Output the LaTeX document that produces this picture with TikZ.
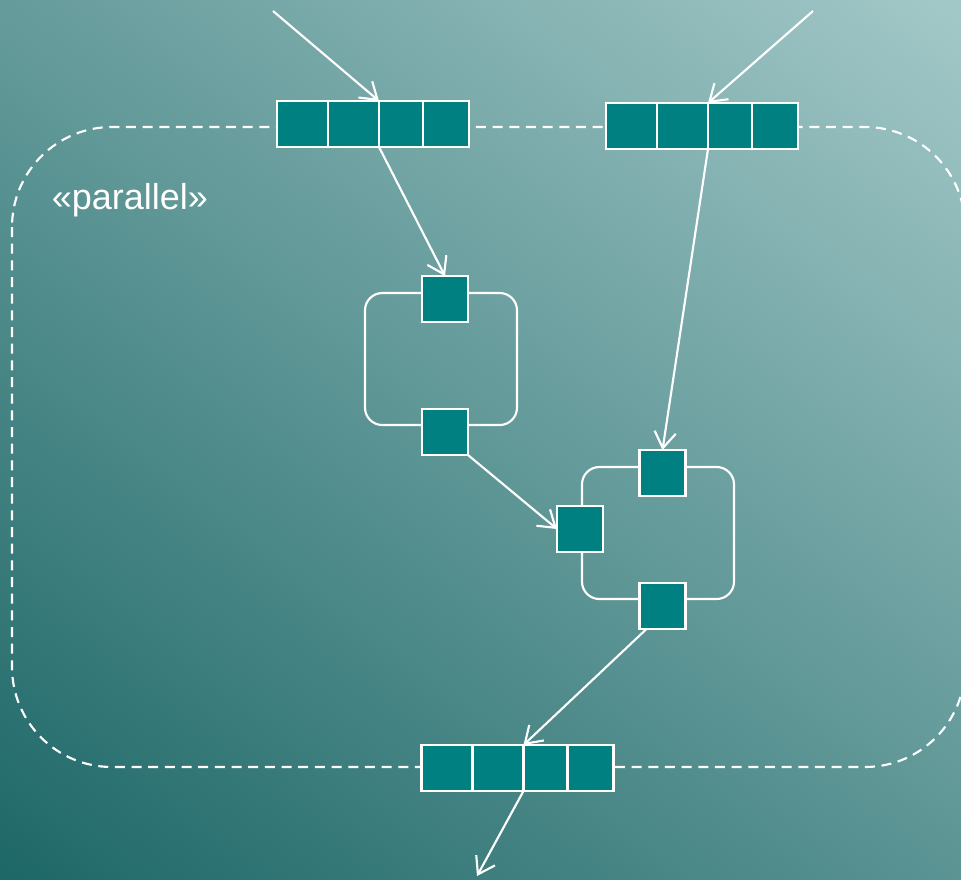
\documentclass[tikz,border=0pt]{standalone}
\usepackage{fontspec}
\setmainfont{Liberation Sans}
\usetikzlibrary{positioning,arrows.meta}

\definecolor{bgdark}{HTML}{1F6868}
\definecolor{bglight}{HTML}{A2C7C7}
\definecolor{pinfill}{HTML}{008080}

\tikzset{
  cell/.style={draw=white, fill=pinfill, line width=1.6pt, inner sep=0pt, outer sep=0pt, minimum height=34.5pt},
  pinbox/.style={cell, minimum width=34.5pt},
  actbox/.style={draw=white, line width=1.6pt, rounded corners=13pt, minimum width=114pt, minimum height=99pt},
  flow/.style={draw=white, line width=1.6pt, -{Straight Barb[length=12pt,width=16pt]}},
}

\begin{document}
\begin{tikzpicture}[x=0.75pt, y=-0.75pt]
        \newcommand{\bufrow}[2]{%
          \node[cell, minimum width=38.25pt] (#1a) at (#2) {};
          \node[cell, minimum width=38.25pt, right=0pt of #1a] (#1b) {};
          \node[cell, minimum width=33pt, right=0pt of #1b] (#1c) {};
          \node[cell, minimum width=34.5pt, right=0pt of #1c] (#1d) {};
        }
        \clip (0,0) rectangle (961,879);
        % oversized so that the corners reach the end colours
        \shade[bottom color=bgdark, top color=bglight, shading angle=-38] (-180,-165) rectangle (1141,1044);

        % parallel region
        \draw[white, line width=1.6pt, dash pattern=on 7.5pt off 5pt, rounded corners=75pt] (12,127) rectangle (965,767);
        \node[text=white, font=\fontsize{27}{32}\selectfont, anchor=base] (stereo) at (130,209) {«parallel»};

        % expansion nodes
        \bufrow{b1}{302.5,124}
        \bufrow{b2}{631.5,126}
        \bufrow{b3}{447,768}

        % actions with their pins
        \node[actbox] (act1) at (441,359) {};
        \node[actbox] (act2) at (658,533) {};
        \node[pinbox] (a1in) at (445,299) {};
        \node[pinbox] (a1out) at (445,432) {};
        \node[pinbox] (a2in) at (662.5,473) {};
        \node[pinbox] (a2side) at (580,529) {};
        \node[pinbox] (a2out) at (662.5,606) {};

        \coordinate (src1) at (273,11);
        \coordinate (src2) at (813,11);
        \coordinate (sink) at (477,876);

        \draw[flow] (src1) -- (b1b.north east);
        \draw[flow] (src2) -- (b2b.north east);
        \draw[flow] (b1b.south east) -- (a1in.north);
        \draw[flow] (b2b.south east) -- (a2in.north);
        \draw[flow] (a1out.south east) -- (a2side.west);
        \draw[flow] ([xshift=-12pt]a2out.south) -- (b3b.north east);
        \draw[flow] (b3b.south east) -- (sink);
    \end{tikzpicture}
\end{document}
